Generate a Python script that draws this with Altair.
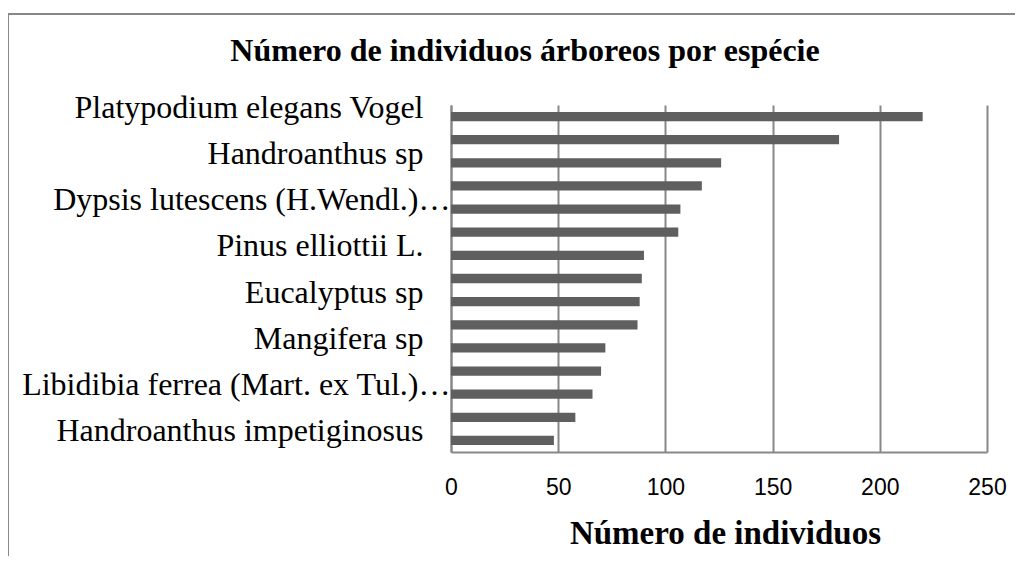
import altair as alt
import pandas as pd

# ---- data ----
ordem = list(range(1, 16))
valores = [220, 181, 126, 117, 107, 106, 90, 89, 88, 87, 72, 70, 66, 58, 48]
rotulos = [
    "Platypodium elegans Vogel", "",
    "Handroanthus sp", "",
    "Dypsis lutescens (H.Wendl.)…", "",
    "Pinus elliottii L.", "",
    "Eucalyptus sp", "",
    "Mangifera sp", "",
    "Libidibia ferrea (Mart. ex Tul.)…", "",
    "Handroanthus impetiginosus",
]
x_ticks = [0, 50, 100, 150, 200, 250]
titulo = "Número de individuos árboreos por espécie"
titulo_x = "Número de individuos"

df = pd.DataFrame({"ordem": ordem, "valor": valores})
one = pd.DataFrame({"k": [0]})

label_array = "[" + ",".join("'" + r.replace("'", "\\'") + "'" for r in rotulos) + "]"
truncados = [i + 1 for i, r in enumerate(rotulos) if r.endswith("…")]
trunc_test = " || ".join(f"datum.value == {t}" for t in truncados)

GRAY = "#888888"

bars = alt.Chart(df).mark_bar(color="#5f5f5f").encode(
    x=alt.X(
        "valor:Q",
        scale=alt.Scale(domain=[0, 250], nice=False),
        axis=alt.Axis(
            values=x_ticks,
            grid=True,
            gridColor=GRAY,
            gridWidth=2,
            domainColor=GRAY,
            domainWidth=2,
            ticks=False,
            tickSize=0,
            labelFont="Liberation Sans",
            labelFontSize=23,
            labelColor="black",
            labelBaseline="alphabetic",
            labelPadding=42,
            labelFlush=False,
            title=titulo_x,
            titleFont="Liberation Serif",
            titleFontSize=33,
            titleFontWeight="bold",
            titleColor="black",
            titleBaseline="alphabetic",
            titleY=91,
            titleX=274,
        ),
    ),
    y=alt.Y(
        "ordem:O",
        scale=alt.Scale(paddingInner=0.6, paddingOuter=0.3),
        axis=alt.Axis(
            labelExpr=f"{label_array}[datum.value - 1]",
            ticks=False,
            tickSize=0,
            grid=False,
            domainColor=GRAY,
            domainWidth=2,
            labelFont="Liberation Serif",
            labelFontSize=32,
            labelColor="black",
            labelBaseline="alphabetic",
            labelOffset=1,
            labelLimit=0,
            labelPadding={"condition": {"test": trunc_test, "value": 1}, "value": 28},
            title="",
        ),
    ),
)

border_left = alt.Chart(one).mark_rule(color=GRAY, strokeWidth=2).encode(
    x=alt.value(-443), y=alt.value(-91), y2=alt.value(700)
)
border_top = alt.Chart(one).mark_rule(color=GRAY, strokeWidth=2).encode(
    x=alt.value(-443), x2=alt.value(700), y=alt.value(-91)
)

title_mark = alt.Chart(one).mark_text(
    font="Liberation Serif", fontSize=32, fontWeight="bold",
    align="center", baseline="alphabetic", color="black",
).encode(x=alt.value(74), y=alt.value(-44), text=alt.value(titulo))

chart = (
    alt.layer(bars, border_left, border_top, title_mark)
    .properties(
        width=536,
        height=347,
        autosize=alt.AutoSizeParams(type="none"),
        padding={"left": 443, "top": 97, "right": 28, "bottom": 104},
    )
    .configure_view(stroke="transparent")
)

chart.save("out.html", embed_options={"renderer": "svg", "actions": False})
